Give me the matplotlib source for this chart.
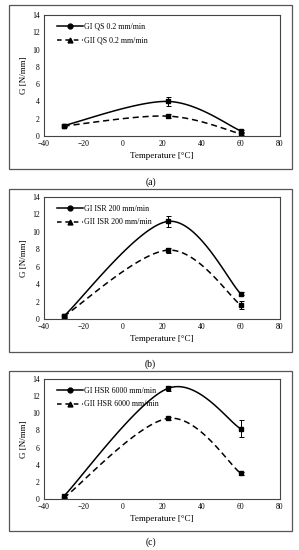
import numpy as np
import matplotlib
matplotlib.use('Agg')
import matplotlib.pyplot as plt
from matplotlib.patches import Rectangle

plt.rcParams['font.family'] = ['Liberation Serif', 'DejaVu Serif']

# Data
temps = [-30, 23, 60]

labels_a = ['GI QS 0.2 mm/min', 'GII QS 0.2 mm/min']
gi_a = [1.2, 4.0, 0.6]
gi_a_err = [0.1, 0.5, 0.15]
gii_a = [1.15, 2.3, 0.25]
gii_a_err = [0.1, 0.2, 0.1]

labels_b = ['GI ISR 200 mm/min', 'GII ISR 200 mm/min']
gi_b = [0.3, 11.2, 2.9]
gi_b_err = [0.15, 0.6, 0.15]
gii_b = [0.3, 7.9, 1.6]
gii_b_err = [0.1, 0.3, 0.5]

labels_c = ['GI HSR 6000 mm/min', 'GII HSR 6000 mm/min']
gi_c = [0.3, 12.9, 8.2]
gi_c_err = [0.2, 0.3, 1.0]
gii_c = [0.1, 9.4, 3.0]
gii_c_err = [0.1, 0.15, 0.15]

captions = ['(a)', '(b)', '(c)']

W, H = 299, 550


# Excel-style smoothed line (Catmull-Rom Bezier) through the points
def smooth(x, y, n=60):
    p = np.column_stack([x, y]).astype(float)
    pts = np.vstack([p[0], p, p[-1]])
    out = []
    for i in range(1, len(pts) - 2):
        p0, p1, p2, p3 = pts[i - 1], pts[i], pts[i + 1], pts[i + 2]
        c1 = p1 + (p2 - p0) / 6.0
        c2 = p2 - (p3 - p1) / 6.0
        t = np.linspace(0, 1, n)[:, None]
        seg = ((1 - t) ** 3) * p1 + 3 * ((1 - t) ** 2) * t * c1 + 3 * (1 - t) * t ** 2 * c2 + t ** 3 * p2
        out.append(seg)
    out = np.vstack(out)
    return out[:, 0], out[:, 1]


def draw_panel(fig, box, plot, labels, gi, gi_err, gii, gii_err, caption, cap_y):
    # outer frame (pixel coords, top-left origin)
    x0, y0, x1, y1 = box
    fig.patches.append(Rectangle((x0 / W, 1 - y1 / H), (x1 - x0) / W, (y1 - y0) / H,
                                 transform=fig.transFigure, fill=False,
                                 edgecolor='#555555', lw=0.9))
    px0, py0, px1, py1 = plot
    ax = fig.add_axes([px0 / W, 1 - py1 / H, (px1 - px0) / W, (py1 - py0) / H])

    sx, sy = smooth(temps, gi)
    ax.plot(sx, sy, color='black', lw=1.1, label='_nolegend_')
    sx, sy = smooth(temps, gii)
    ax.plot(sx, sy, color='black', lw=1.1, ls=(0, (4, 2.5)), label='_nolegend_')

    ax.errorbar(temps, gi, yerr=gi_err, fmt='s', color='black', ms=3.2,
                capsize=1.8, elinewidth=0.7, capthick=0.7)
    ax.errorbar(temps, gii, yerr=gii_err, fmt='s', color='black', ms=3.2,
                capsize=1.8, elinewidth=0.7, capthick=0.7)

    ax.plot([], [], color='black', lw=1.1, marker='o', ms=3.5, label=labels[0])
    ax.plot([], [], color='black', lw=1.1, ls=(0, (3, 2.5)), marker='^', ms=3.5, label=labels[1])
    ax.legend(loc='upper left', frameon=False, fontsize=5.7, handlelength=3.2,
              handletextpad=0.2, labelspacing=0.75, borderaxespad=0.4,
              bbox_to_anchor=(0.03, 0.99))

    ax.set_xlim(-40, 80)
    ax.set_ylim(0, 14)
    ax.set_xticks(np.arange(-40, 81, 20))
    ax.set_yticks(np.arange(0, 15, 2))
    ax.tick_params(length=0, labelsize=5.5, pad=3)
    for s in ax.spines.values():
        s.set_linewidth(0.8)
        s.set_color('#444444')
    ax.set_xlabel('Temperature [\u00b0C]', fontsize=6.5, labelpad=3)
    ax.set_ylabel('G [N/mm]', fontsize=6.5, labelpad=3)
    fig.text((x0 + x1) / 2 / W, 1 - cap_y / H, caption, ha='center', va='center', fontsize=7)


fig = plt.figure(figsize=(W / 100, H / 100), dpi=100)

draw_panel(fig, (9, 5, 292, 169), (44, 15, 280, 136),
           labels_a, gi_a, gi_a_err, gii_a, gii_a_err, captions[0], 182)
draw_panel(fig, (9, 189, 292, 352), (44, 197, 280, 319),
           labels_b, gi_b, gi_b_err, gii_b, gii_b_err, captions[1], 364)
draw_panel(fig, (9, 371, 292, 531), (44, 379, 280, 499),
           labels_c, gi_c, gi_c_err, gii_c, gii_c_err, captions[2], 542)

fig.savefig('out.png', dpi=100)
